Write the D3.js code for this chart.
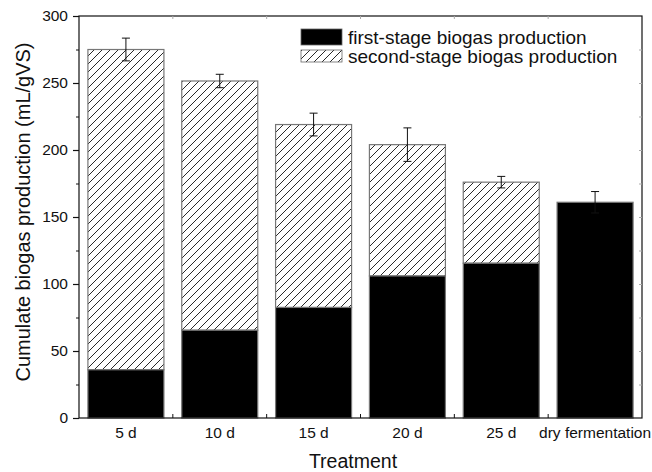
<!DOCTYPE html>
<html>
<head>
    <title>Cumulate biogas production</title>
    <script src="https://d3js.org/d3.v7.min.js"></script>
    <style>
        html, body {
            margin: 0;
            padding: 0;
            background: white;
        }
        #chart text {
            font-family: "Liberation Sans", Arial, sans-serif;
            fill: #111;
        }
    </style>
</head>
<body>
<div id="chart"></div>
<script>
    // data
    const treatments = ['5 d', '10 d', '15 d', '20 d', '25 d', 'dry fermentation'];
    const firstStage = [36, 65.5, 82.5, 106, 115.5, 161];
    const totalProduction = [275, 251.5, 219, 204, 176, 161];
    const errors = [8.5, 5, 8.5, 12.5, 4.3, 8];
    const yTicks = [0, 50, 100, 150, 200, 250, 300];

    const width = 652;
    const height = 472;
    const plotLeft = 79, plotRight = 642, plotTop = 16, plotBottom = 418;

    const svg = d3.select("#chart")
        .append("svg")
        .attr("width", width)
        .attr("height", height);

    // hatch pattern for second stage
    const defs = svg.append("defs");
    defs.append("pattern")
        .attr("id", "hatch")
        .attr("patternUnits", "userSpaceOnUse")
        .attr("width", 8)
        .attr("height", 8)
        .call(p => {
            p.append("rect").attr("width", 8).attr("height", 8).attr("fill", "white");
            p.append("path")
                .attr("d", "M-2,2 l4,-4 M0,8 l8,-8 M6,10 l4,-4")
                .attr("stroke", "#111")
                .attr("stroke-width", 0.9);
        });

    const x = d3.scaleBand()
        .domain(treatments)
        .range([plotLeft, plotRight])
        .paddingInner(0.19)
        .paddingOuter(0.095);

    const y = d3.scaleLinear()
        .domain([0, 300])
        .range([plotBottom, plotTop]);

    const rows = treatments.map((t, i) => ({
        name: t,
        first: firstStage[i],
        total: totalProduction[i],
        err: errors[i]
    }));

    // second stage (hatched) part, sits on top of the first stage
    svg.selectAll(".second")
        .data(rows.filter(d => d.total > d.first))
        .enter()
        .append("rect")
        .attr("class", "second")
        .attr("x", d => x(d.name))
        .attr("y", d => y(d.total))
        .attr("width", x.bandwidth())
        .attr("height", d => y(d.first) - y(d.total))
        .attr("fill", "url(#hatch)")
        .attr("stroke", "#777")
        .attr("stroke-width", 1.2);

    // first stage (black)
    svg.selectAll(".first")
        .data(rows)
        .enter()
        .append("rect")
        .attr("class", "first")
        .attr("x", d => x(d.name))
        .attr("y", d => y(d.first))
        .attr("width", x.bandwidth())
        .attr("height", d => y(0) - y(d.first))
        .attr("fill", "black")
        .attr("stroke", "#777")
        .attr("stroke-width", 1.2);

    // error bars
    const eb = svg.selectAll(".err")
        .data(rows)
        .enter()
        .append("g")
        .attr("class", "err")
        .attr("stroke", "#111")
        .attr("stroke-width", 1);
    eb.append("line")
        .attr("x1", d => x(d.name) + x.bandwidth() / 2)
        .attr("x2", d => x(d.name) + x.bandwidth() / 2)
        .attr("y1", d => y(d.total + d.err))
        .attr("y2", d => y(d.total - d.err));
    eb.append("line")
        .attr("x1", d => x(d.name) + x.bandwidth() / 2 - 4)
        .attr("x2", d => x(d.name) + x.bandwidth() / 2 + 4)
        .attr("y1", d => y(d.total + d.err))
        .attr("y2", d => y(d.total + d.err));
    eb.append("line")
        .attr("x1", d => x(d.name) + x.bandwidth() / 2 - 4)
        .attr("x2", d => x(d.name) + x.bandwidth() / 2 + 4)
        .attr("y1", d => y(d.total - d.err))
        .attr("y2", d => y(d.total - d.err));

    // frame
    svg.append("rect")
        .attr("x", plotLeft)
        .attr("y", plotTop)
        .attr("width", plotRight - plotLeft)
        .attr("height", plotBottom - plotTop)
        .attr("fill", "none")
        .attr("stroke", "#111")
        .attr("stroke-width", 1.2);

    // left axis with labels
    const yAxis = svg.append("g")
        .attr("transform", `translate(${plotLeft},0)`)
        .call(d3.axisLeft(y).tickValues(yTicks).tickSize(6).tickPadding(5));
    yAxis.select(".domain").remove();
    yAxis.selectAll("line").attr("stroke", "#111").attr("stroke-width", 1.2);
    yAxis.selectAll("text").style("font-size", "15.5px");

    // minor ticks left
    svg.append("g")
        .attr("transform", `translate(${plotLeft},0)`)
        .call(d3.axisLeft(y).tickValues(d3.range(25, 300, 50)).tickSize(3).tickFormat(""))
        .call(g => g.select(".domain").remove())
        .selectAll("line").attr("stroke", "#111");

    // right axis small inward ticks
    svg.append("g")
        .attr("transform", `translate(${plotRight},0)`)
        .call(d3.axisRight(y).tickValues(d3.range(25, 300, 25)).tickSize(-3).tickFormat(""))
        .call(g => g.select(".domain").remove())
        .selectAll("line").attr("stroke", "#aaa");

    // bottom axis: labels under bars, ticks at category boundaries
    const xAxis = svg.append("g")
        .attr("transform", `translate(0,${plotBottom})`)
        .call(d3.axisBottom(x).tickSize(0).tickPadding(9));
    xAxis.select(".domain").remove();
    xAxis.selectAll("text").style("font-size", "15.5px");

    const boundaries = treatments.slice(1).map(d => x(d) - x.step() * x.paddingInner() / 2);
    svg.append("g")
        .selectAll("line")
        .data(boundaries)
        .enter()
        .append("line")
        .attr("x1", d => d)
        .attr("x2", d => d)
        .attr("y1", plotBottom)
        .attr("y2", plotBottom - 4)
        .attr("stroke", "#111");
    svg.append("g")
        .selectAll("line")
        .data(boundaries)
        .enter()
        .append("line")
        .attr("x1", d => d)
        .attr("x2", d => d)
        .attr("y1", plotTop)
        .attr("y2", plotTop + 3)
        .attr("stroke", "#aaa");

    // axis titles
    svg.append("text")
        .attr("transform", `translate(30,212) rotate(-90)`)
        .attr("text-anchor", "middle")
        .style("font-size", "20px")
        .text("Cumulate biogas production (mL/gVS)");

    svg.append("text")
        .attr("x", 353)
        .attr("y", 468)
        .attr("text-anchor", "middle")
        .style("font-size", "19.5px")
        .text("Treatment");

    // legend
    const legend = svg.append("g");
    const legendItems = [
        { label: "first-stage biogas production", fill: "black", y: 29, h: 16, base: 44 },
        { label: "second-stage biogas production", fill: "url(#hatch)", y: 50, h: 12, base: 63 }
    ];
    legendItems.forEach(item => {
        legend.append("rect")
            .attr("x", 301)
            .attr("y", item.y)
            .attr("width", 41)
            .attr("height", item.h)
            .attr("fill", item.fill)
            .attr("stroke", "#666")
            .attr("stroke-width", 0.8);
        legend.append("text")
            .attr("x", 348)
            .attr("y", item.base)
            .style("font-size", "19px")
            .text(item.label);
    });
</script>
</body>
</html>
